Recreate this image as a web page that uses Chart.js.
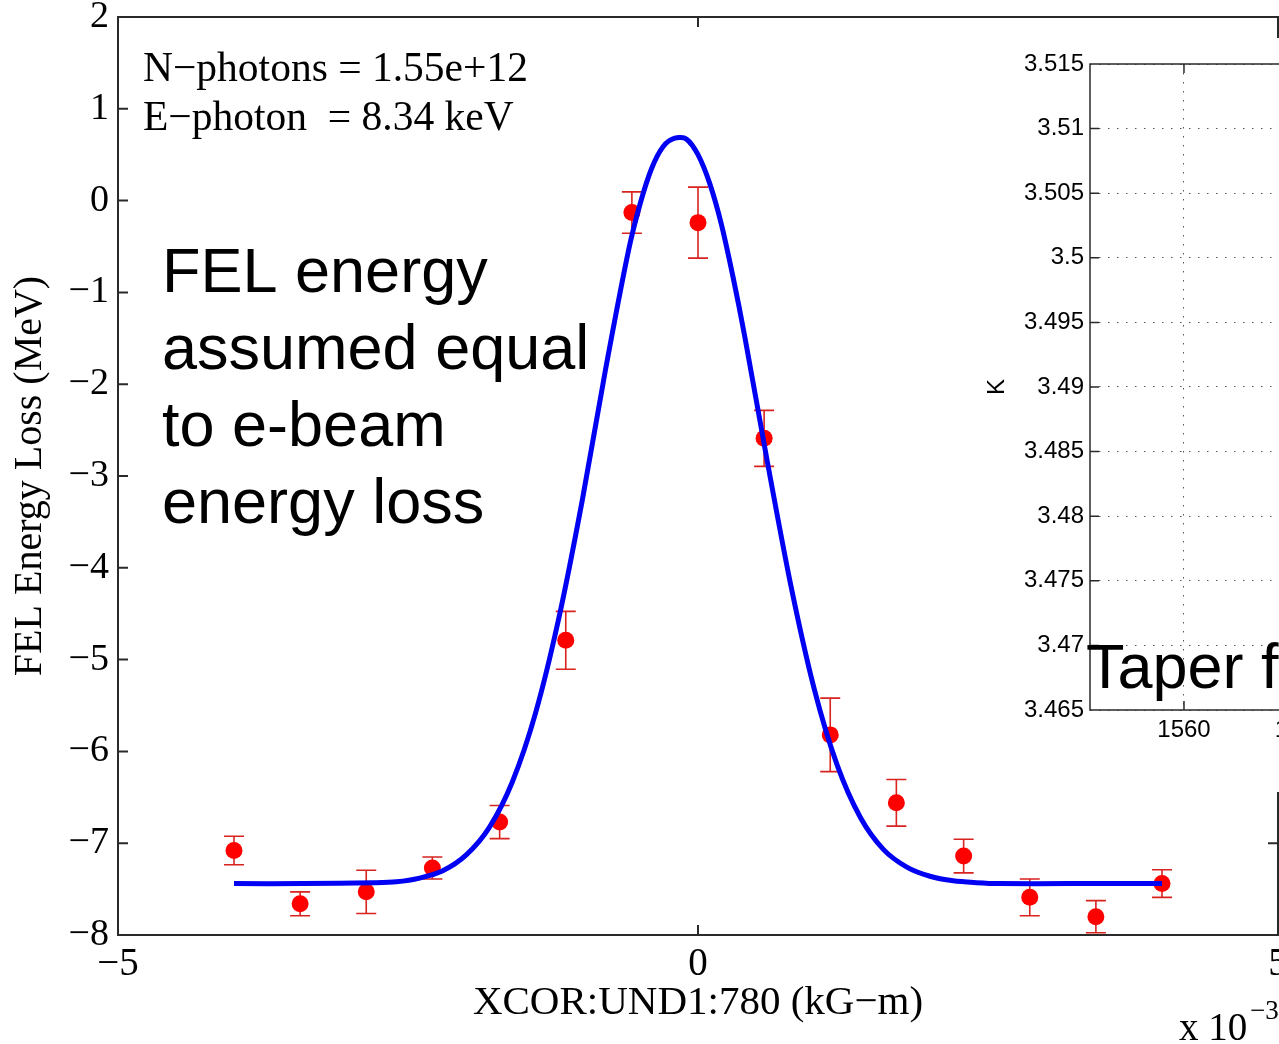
<!DOCTYPE html>
<html><head><meta charset="utf-8">
<script src="https://cdn.jsdelivr.net/npm/chart.js@4/dist/chart.umd.min.js"></script>
<style>
html,body{margin:0;padding:0;background:#fff;width:1279px;height:1044px;overflow:hidden;position:relative}
#main{position:absolute;left:0;top:0}
#inset{position:absolute;left:975px;top:38px;background:#fff}
</style></head><body>
<canvas id="main" width="1400" height="1044"></canvas>
<canvas id="inset" width="800" height="754"></canvas>
<script>
// ---- main chart data ----
const pointX = [-4, -3.43, -2.86, -2.29, -1.71, -1.14, -0.57, 0, 0.57, 1.14, 1.71, 2.29, 2.86, 3.43, 4];
const pointY = [-7.08, -7.66, -7.53, -7.27, -6.77, -4.79, -0.13, -0.24, -2.59, -5.82, -6.56, -7.14, -7.59, -7.80, -7.44];
const pointErr = [0.155, 0.13, 0.235, 0.12, 0.18, 0.315, 0.225, 0.387, 0.305, 0.40, 0.254, 0.183, 0.2, 0.175, 0.15];
const curveX = [-4.0, -3.4, -2.8, -2.6, -2.4, -2.2, -2.0, -1.8, -1.6, -1.4, -1.2, -1.0, -0.8, -0.6, -0.5, -0.4, -0.3, -0.2, -0.1, 0.0, 0.1, 0.2, 0.3, 0.4, 0.6, 0.8, 1.0, 1.2, 1.4, 1.6, 1.8, 2.0, 2.2, 2.4, 2.6, 3.2, 4.0];
const curveY = [-7.44, -7.44, -7.43, -7.42, -7.38, -7.30, -7.13, -6.83, -6.33, -5.58, -4.55, -3.28, -1.86, -0.55, -0.04, 0.35, 0.59, 0.68, 0.67, 0.50, 0.19, -0.25, -0.82, -1.46, -2.86, -4.19, -5.31, -6.15, -6.72, -7.07, -7.26, -7.36, -7.41, -7.43, -7.44, -7.44, -7.44];
const xTicks = [-5, 0, 5];
const xTickLabels = ['\u22125', '0', '5'];
const yTicks = [-8, -7, -6, -5, -4, -3, -2, -1, 0, 1, 2];
const yTickLabels = ['\u22128', '\u22127', '\u22126', '\u22125', '\u22124', '\u22123', '\u22122', '\u22121', '0', '1', '2'];
const xTitle = 'XCOR:UND1:780 (kG\u2212m)';
const yTitle = 'FEL Energy Loss (MeV)';
const infoLines = ['N\u2212photons = 1.55e+12', 'E\u2212photon  = 8.34 keV'];
const noteLines = ['FEL energy', 'assumed equal', 'to e-beam', 'energy loss'];
// ---- inset data ----
const insetXTicks = [1560, 1580, 1600, 1620, 1640];
const insetYTicks = [3.465, 3.47, 3.475, 3.48, 3.485, 3.49, 3.495, 3.5, 3.505, 3.51, 3.515];
const insetYTickLabels = ['3.465', '3.47', '3.475', '3.48', '3.485', '3.49', '3.495', '3.5', '3.505', '3.51', '3.515'];
const insetYTitle = 'K';
const insetNote = 'Taper f';

const SERIF = "'Times New Roman','Liberation Serif',serif";
const SANS = "Arial,'Liberation Sans',Helvetica,sans-serif";

const framePlugin = {
  id: 'frame',
  afterDatasetsDraw(chart, args, opts) {
    const {ctx, chartArea: a, scales: {x, y}} = chart;
    ctx.save();
    ctx.strokeStyle = opts.color; ctx.lineWidth = opts.width;
    ctx.strokeRect(a.left, a.top, a.right - a.left, a.bottom - a.top);
    ctx.beginPath();
    const L = opts.tick;
    opts.xt.forEach(v => { const px = x.getPixelForValue(v);
      ctx.moveTo(px, a.bottom); ctx.lineTo(px, a.bottom - L);
      ctx.moveTo(px, a.top); ctx.lineTo(px, a.top + L); });
    opts.yt.forEach(v => { const py = y.getPixelForValue(v);
      ctx.moveTo(a.left, py); ctx.lineTo(a.left + L, py);
      if (opts.right) { ctx.moveTo(a.right, py); ctx.lineTo(a.right - L, py); } });
    ctx.stroke();
    ctx.restore();
  }
};

const errorBarPlugin = {
  id: 'errbars',
  beforeDatasetsDraw(chart) {
    const {ctx, scales: {x, y}} = chart;
    ctx.save();
    ctx.strokeStyle = '#d8231f'; ctx.lineWidth = 1.6;
    ctx.beginPath();
    pointX.forEach((xv, i) => {
      const px = x.getPixelForValue(xv);
      const t = y.getPixelForValue(pointY[i] + pointErr[i]);
      const b = y.getPixelForValue(pointY[i] - pointErr[i]);
      ctx.moveTo(px, t); ctx.lineTo(px, b);
      ctx.moveTo(px - 10, t); ctx.lineTo(px + 10, t);
      ctx.moveTo(px - 10, b); ctx.lineTo(px + 10, b);
    });
    ctx.stroke();
    ctx.restore();
  }
};

const textPlugin = {
  id: 'texts',
  afterDraw(chart) {
    const {ctx, chartArea: a} = chart;
    ctx.save();
    ctx.fillStyle = '#000';
    ctx.textBaseline = 'alphabetic';
    ctx.textAlign = 'left';
    ctx.font = `41.5px ${SERIF}`;
    infoLines.forEach((s, i) => ctx.fillText(s, a.left + 25, a.top + 64 + i * 49));
    ctx.font = `63px ${SANS}`;
    noteLines.forEach((s, i) => ctx.fillText(s, a.left + 44, a.top + 275 + i * 77));
    ctx.font = `39px ${SERIF}`;
    ctx.fillText('x 10', a.right - 99, a.bottom + 105);
    ctx.font = `27px ${SERIF}`;
    ctx.fillText('\u22123', a.right - 28, a.bottom + 84);
    ctx.restore();
  }
};

new Chart(document.getElementById('main'), {
  type: 'scatter',
  data: { datasets: [
    { type: 'line', label: 'fit', data: curveX.map((v, i) => ({x: v, y: curveY[i]})),
      borderColor: '#0000f2', borderWidth: 5, pointRadius: 0, tension: 0.3, fill: false, order: 0 },
    { type: 'scatter', label: 'data', data: pointX.map((v, i) => ({x: v, y: pointY[i]})),
      backgroundColor: '#ff0000', borderWidth: 0, pointRadius: 8.5, order: 1 }
  ]},
  options: {
    responsive: false, animation: false, devicePixelRatio: 1,
    layout: {padding: {top: 17, right: 122, left: 0, bottom: 0}},
    plugins: {legend: {display: false}, tooltip: {enabled: false},
      frame: {color: '#2a2a2a', width: 2, tick: 10, xt: xTicks, yt: yTicks, right: true}},
    scales: {
      x: {type: 'linear', min: -5, max: 5,
        afterBuildTicks: s => { s.ticks = xTicks.map(v => ({value: v})); },
        ticks: {callback: v => xTickLabels[xTicks.indexOf(v)], font: {family: SERIF, size: 39}, color: '#000', padding: 6, maxRotation: 0, autoSkip: false},
        grid: {display: false, drawTicks: false}, border: {display: false},
        title: {display: true, text: xTitle, font: {family: SERIF, size: 41}, color: '#000', padding: {top: 0, bottom: 16}},
        afterFit: s => { s.height = 109; }},
      y: {type: 'linear', min: -8, max: 2,
        afterBuildTicks: s => { s.ticks = yTicks.map(v => ({value: v})); },
        ticks: {callback: v => yTickLabels[yTicks.indexOf(v)], font: {family: SERIF, size: 38, lineHeight: 0.3}, color: '#000', padding: 9, autoSkip: false},
        grid: {display: false, drawTicks: false}, border: {display: false},
        title: {display: true, text: yTitle, font: {family: SERIF, size: 40}, color: '#000', padding: {top: 6, bottom: 0}},
        afterFit: s => { s.width = 118; }}
    }
  },
  plugins: [framePlugin, errorBarPlugin, textPlugin]
});

const insetFrame = {
  id: 'insetFrame',
  afterDraw(chart) {
    const {ctx, chartArea: a, scales: {x, y}} = chart;
    ctx.save();
    ctx.strokeStyle = '#2a2a2a'; ctx.lineWidth = 1.5;
    ctx.beginPath();
    ctx.moveTo(a.right + 50, a.top); ctx.lineTo(a.left, a.top); ctx.lineTo(a.left, a.bottom); ctx.lineTo(a.right + 50, a.bottom);
    insetXTicks.forEach(v => { const px = x.getPixelForValue(v);
      ctx.moveTo(px, a.bottom); ctx.lineTo(px, a.bottom - 9);
      ctx.moveTo(px, a.top); ctx.lineTo(px, a.top + 9); });
    insetYTicks.forEach(v => { const py = y.getPixelForValue(v);
      ctx.moveTo(a.left, py); ctx.lineTo(a.left + 9, py); });
    ctx.stroke();
    ctx.fillStyle = '#000';
    ctx.font = `63px ${SANS}`;
    ctx.textAlign = 'left'; ctx.textBaseline = 'alphabetic';
    ctx.fillText(insetNote, a.left - 4, a.bottom - 22);
    ctx.restore();
  }
};

new Chart(document.getElementById('inset'), {
  type: 'scatter',
  data: {datasets: []},
  options: {
    responsive: false, animation: false, devicePixelRatio: 1,
    layout: {padding: {top: 26, right: 80, left: 0, bottom: 0}},
    plugins: {legend: {display: false}, tooltip: {enabled: false}},
    scales: {
      x: {type: 'linear', min: 1544, max: 1647,
        afterBuildTicks: s => { s.ticks = insetXTicks.map(v => ({value: v})); },
        ticks: {callback: v => String(v), font: {family: SANS, size: 24}, color: '#000', padding: 6, maxRotation: 0, autoSkip: false},
        grid: {display: true, color: '#555', lineWidth: 1, drawTicks: false}, border: {display: false, dash: [1.5, 7.5]},
        afterFit: s => { s.height = 82; }},
      y: {type: 'linear', min: 3.465, max: 3.515,
        afterBuildTicks: s => { s.ticks = insetYTicks.map(v => ({value: v})); },
        ticks: {callback: v => insetYTickLabels[insetYTicks.findIndex(t => Math.abs(t - v) < 1e-9)], font: {family: SANS, size: 24, lineHeight: 0.8}, color: '#000', padding: 6, autoSkip: false},
        grid: {display: true, color: '#555', lineWidth: 1, drawTicks: false}, border: {display: false, dash: [1.5, 7.5]},
        title: {display: true, text: insetYTitle, font: {family: SANS, size: 24}, color: '#000', padding: {top: 8, bottom: 0}},
        afterFit: s => { s.width = 115; }}
    }
  },
  plugins: [insetFrame]
});
</script>
</body></html>
